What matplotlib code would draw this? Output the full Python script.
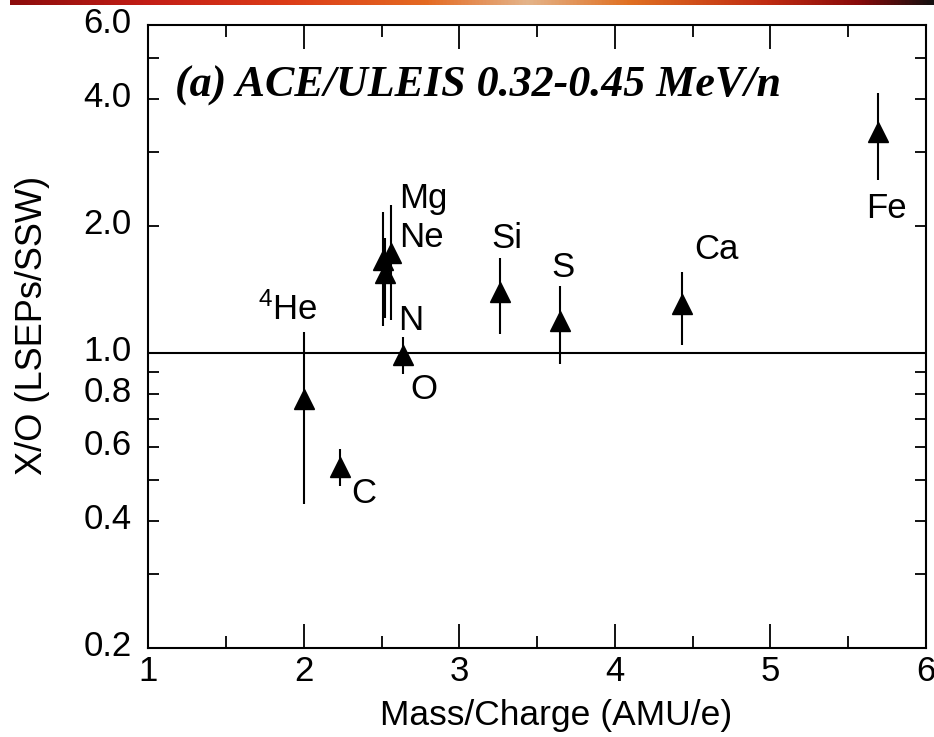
import numpy as np
import matplotlib
matplotlib.use("Agg")
import matplotlib.pyplot as plt
import matplotlib.transforms as mtransforms
from matplotlib.colors import LinearSegmentedColormap
from matplotlib.ticker import FixedLocator, FixedFormatter, NullFormatter

# ---- data -------------------------------------------------------------
elements = [r"$\mathregular{^4}$He", "C", "N", "O", "Ne", "Mg", "Si", "S", "Ca", "Fe"]
mass_charge = [2.00, 2.23, 2.52, 2.64, 2.51, 2.56, 3.26, 3.65, 4.43, 5.69]
ratio = [0.78, 0.536, 1.55, 0.99, 1.663, 1.725, 1.40, 1.194, 1.308, 3.35]
ratio_hi = [1.12, 0.592, 1.875, 1.094, 2.165, 2.246, 1.684, 1.443, 1.56, 4.13]
ratio_lo = [0.44, 0.483, 1.21, 0.892, 1.160, 1.199, 1.110, 0.943, 1.046, 2.58]

x_ticks = [1, 2, 3, 4, 5, 6]
x_minor = [1.5, 2.5, 3.5, 4.5, 5.5]
y_ticks = [0.2, 0.4, 0.6, 0.8, 1.0, 2.0, 4.0, 6.0]
y_tick_labels = ["0.2", "0.4", "0.6", "0.8", "1.0", "2.0", "4.0", "6.0"]
y_minor = [0.3, 0.5, 0.7, 0.9, 3.0, 5.0]

title = "(a) ACE/ULEIS 0.32-0.45 MeV/n"

# label placement relative to each marker, in pixels
label_offsets = {
    "C": (12, -36), "N": (13, -57), "O": (7, -44), "Ne": (16, 13),
    "Mg": (8, 45), "Si": (-8, 44), "S": (-9, 44), "Ca": (12, 45),
    "Fe": (-12, -86),
}
he_offset = (-46, 79)

# ---- style ------------------------------------------------------------
plt.rcParams["font.family"] = ["Liberation Sans", "DejaVu Sans"]
plt.rcParams["mathtext.fontset"] = "custom"
plt.rcParams["mathtext.rm"] = "Liberation Sans"

W, H = 934, 737
fig = plt.figure(figsize=(W / 100, H / 100), dpi=100)

# decorative header strip
strip = fig.add_axes([10 / W, 1 - 5 / H, 1 - 10 / W, 5 / H])
strip_cmap = LinearSegmentedColormap.from_list(
    "strip",
    [(0.0, "#8c0c0c"), (0.15, "#c41e16"), (0.3, "#dc3c18"), (0.45, "#e46a22"),
     (0.56, "#e4b48a"), (0.67, "#e07022"), (0.82, "#c02c12"), (0.92, "#880a0a"),
     (1.0, "#141010")])
strip.imshow(np.linspace(0, 1, 512)[None, :], aspect="auto", cmap=strip_cmap,
             extent=[0, 1, 0, 1])
strip.set_axis_off()

ax = fig.add_axes([148.3 / W, 1 - 648 / H, (926 - 148.3) / W, (648 - 25) / H])
ax.set_yscale("log")
ax.set_xlim(1, 6)
ax.set_ylim(0.2, 6.0)

x = np.array(mass_charge)
y = np.array(ratio)
yerr = [y - np.array(ratio_lo), np.array(ratio_hi) - y]

ax.axhline(1.0, color="black", lw=1.5, zorder=1)
ax.errorbar(x, y, yerr=yerr, fmt="none", ecolor="black", elinewidth=1.5,
            capsize=0, zorder=2)
ax.plot(x, y, linestyle="none", marker="^", ms=14.5, color="black", zorder=3)

for name, xi, yi in zip(elements, x, y):
    off = label_offsets.get(name, he_offset)
    ax.annotate(name, (xi, yi), xytext=off, textcoords="offset pixels",
                ha="left", va="baseline", fontsize=25)

# axes ticks
ax.xaxis.set_major_locator(FixedLocator(x_ticks))
ax.xaxis.set_minor_locator(FixedLocator(x_minor))
ax.yaxis.set_major_locator(FixedLocator(y_ticks))
ax.yaxis.set_major_formatter(FixedFormatter(y_tick_labels))
ax.yaxis.set_minor_locator(FixedLocator(y_minor))
ax.yaxis.set_minor_formatter(NullFormatter())

ax.tick_params(which="both", direction="in", top=True, right=True,
               width=1.3, labelsize=25, color="black")
ax.tick_params(axis="x", which="major", length=17, pad=5)
ax.tick_params(axis="x", which="minor", length=8.5)
ax.tick_params(axis="y", which="both", length=8, pad=12)

for spine in ax.spines.values():
    spine.set_linewidth(1.5)

# nudge the y tick labels upward slightly
shift = mtransforms.ScaledTranslation(0, 5 / 100, fig.dpi_scale_trans)
for lab in ax.get_yticklabels():
    lab.set_transform(lab.get_transform() + shift)

ax.set_xlabel("Mass/Charge (AMU/e)", fontsize=25.5)
ax.xaxis.set_label_coords(0.524, -0.1236)
ax.xaxis.label.set_verticalalignment("baseline")

ax.set_ylabel("X/O (LSEPs/SSW)", fontsize=26)
ax.yaxis.label.set_rotation_mode("anchor")
ax.yaxis.label.set_verticalalignment("baseline")
ax.yaxis.set_label_coords(-0.137, 0.5185)

fig.text(175 / W, 1 - 97 / H, title, fontsize=31.7, fontweight="bold",
         fontstyle="italic", family=["Liberation Serif", "DejaVu Serif"],
         ha="left", va="baseline")

fig.savefig("out.png", dpi=100)
